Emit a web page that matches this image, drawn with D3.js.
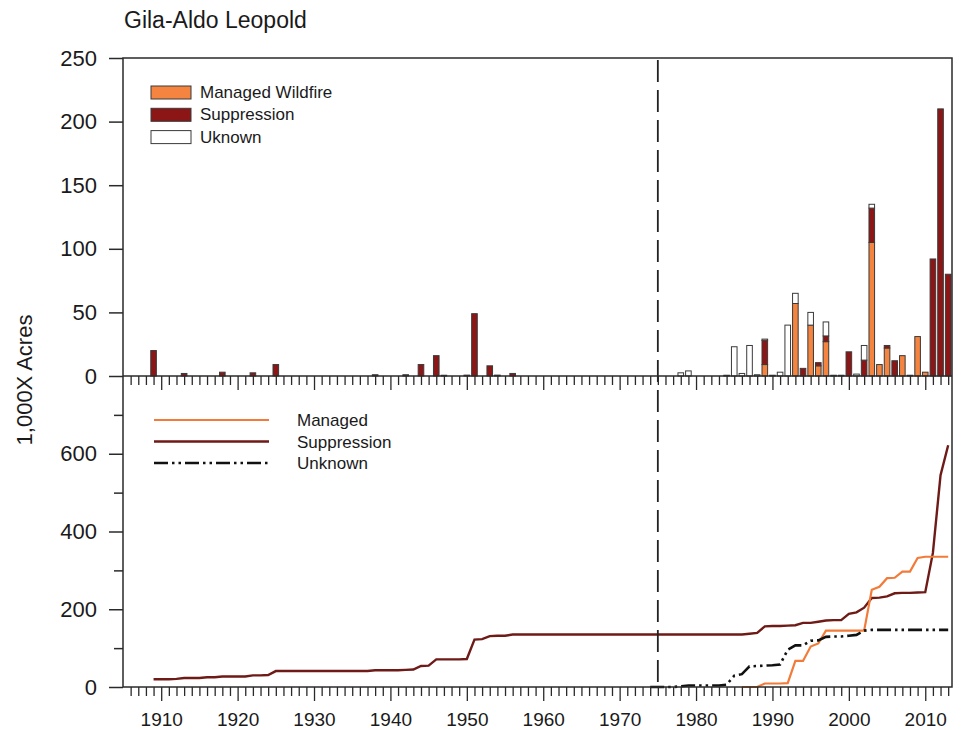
<!DOCTYPE html>
<html><head><meta charset="utf-8">
<script src="https://cdn.jsdelivr.net/npm/d3@7"></script>
<style>html,body{margin:0;padding:0;background:#fff;}svg{display:block;font-family:"Liberation Sans",Arial,sans-serif;}</style>
</head><body>
<script>
// ---- Data (1,000 acres) ----
const barYears   = [1909,1913,1918,1922,1925,1938,1942,1944,1946,1947,1950,1951,1953,1954,1956,1978,1979,1984,1985,1986,1987,1988,1989,1990,1991,1992,1993,1994,1995,1996,1997,1998,1999,2000,2001,2002,2003,2004,2005,2006,2007,2008,2009,2010,2011,2012,2013];
const managedBar = [0,0,0,0,0,0,0,0,0,0,0,0,0,0,0,0,0,0,0,0,0,0,9,0,0,0,57,0,40,8,27,0,0,0,0,0,105,9,22,0,16,0,31,3,0,0,0];
const suppBar    = [20,2,3,2.5,9,1,1,9,16,0.6,0.7,49,8,0.7,2,0,0,0.6,0,0,0,0,19,0.6,0,0,0,6,0,2.5,4.5,0.6,0.6,19,0,12.5,27,0,2,12,0,0.6,0,0,92,210,80];
const unknownBar = [0,0,0,0,0,0,0,0,0,0,0,0,0,0,0,2.5,4,0,23,2,24,1,1,0,3,40,8,0,10,0,11,0,0,0,1.5,11.5,3,0,0,0,0,0,0,0,0,0,0];

const suppCumStart = 1909;
const suppCum = [20,20,20,21,23,23,23,25,25,27,27,27,27,30,30,31,41,
  41,41,41,41,41,41,41,41,41,41,41,41,
  43,43,43,43,44,45,54,55,71,71,71,71,72,122,123,131,132,132,135,
  135,135,135,135,135,135,135,135,135,135,135,135,135,135,135,135,135,135,135,135,135,135,135,135,135,135,135,135,135,
  135,137,139,156,157,157,158,159,165,165,168,171,172,172,188,192,204,229,230,233,241,242,242,243,244,345,545,622];
const managedCumStart = 1986;
const managedCum = [0,0,0,9,9,9,10,67,67,104,112,145,145,145,145,145,145,250,258,280,281,297,297,332,335,335,335,335];
const unknownCumStart = 1974;
const unknownCum = [0,0,0,0,2,4,4,4,4,4,6,29,33,53,54,55,56,58,96,107,107,119,120,129,130,130,132,134,145,147,147,147,147,147,147,147,147,147,147,147];

const topTicks = [0,50,100,150,200,250];
const botMajorTicks = [0,200,400,600];
const botMinorTicks = [100,300,500,700];
const decadeTicks = [1910,1920,1930,1940,1950,1960,1970,1980,1990,2000,2010];
const title = "Gila-Aldo Leopold";
const yTitle = "1,000X Acres";
const barLegend = ["Managed Wildfire","Suppression","Uknown"];
const lineLegend = ["Managed","Suppression","Unknown"];
const breakYear = 1975;

// ---- Drawing ----
const W = 963, H = 730;
const L = 123, R = 952, T = 58, MID = 376, B = 687;
const col = {managed:"#F4843F", supp:"#8C1616", unknown:"#ffffff",
  mLine:"#F27B3A", sLine:"#6E1A16", uLine:"#111"};
const axisCol = "#2a2a2a";

const svg = d3.select("body").append("svg").attr("width",W).attr("height",H);
const x = d3.scaleLinear().domain([1905, 2013.5]).range([L, R]);
const yTop = d3.scaleLinear().domain([0,250]).range([MID, T]);
const yBot = d3.scaleLinear().domain([0,800]).range([B, MID]);

// Bars (stacked)
const bw = 5.6;
const stackData = barYears.map((yr,i)=>({year:yr, managed:managedBar[i], supp:suppBar[i], unknown:unknownBar[i]}));
const stack = d3.stack().keys(["managed","supp","unknown"])(stackData);
const fills = {managed:col.managed, supp:col.supp, unknown:col.unknown};
stack.forEach(layer=>{
  svg.append("g").selectAll("rect").data(layer.filter(d=>d[1]-d[0]>0)).join("rect")
    .attr("x", d=>x(d.data.year)-bw/2).attr("width", bw)
    .attr("y", d=>yTop(d[1])).attr("height", d=>Math.max(0.8, yTop(d[0])-yTop(d[1])))
    .attr("fill", layer.key==="unknown" && d3.select ? fills[layer.key] : fills[layer.key])
    .attr("stroke","#3a3a3a").attr("stroke-width",1);
});

// Lines
const mkLine = (start, arr) => arr.map((v,i)=>[start+i, v]);
const line = d3.line().x(d=>x(d[0])).y(d=>yBot(d[1]));
svg.append("path").attr("d", line(mkLine(suppCumStart, suppCum))).attr("fill","none")
  .attr("stroke", col.sLine).attr("stroke-width",2.4);
svg.append("path").attr("d", line(mkLine(managedCumStart, managedCum))).attr("fill","none")
  .attr("stroke", col.mLine).attr("stroke-width",2.2);
svg.append("path").attr("d", line(mkLine(unknownCumStart, unknownCum))).attr("fill","none")
  .attr("stroke", col.uLine).attr("stroke-width",2.6).attr("stroke-dasharray","14,4,2.5,4,2.5,4");

// Dashed divider
svg.append("line").attr("x1",x(breakYear)).attr("x2",x(breakYear)).attr("y1",T+2).attr("y2",B)
  .attr("stroke","#222").attr("stroke-width",1.8).attr("stroke-dasharray","22,8");

// Frame
svg.append("rect").attr("x",L).attr("y",T).attr("width",R-L).attr("height",B-T)
  .attr("fill","none").attr("stroke",axisCol).attr("stroke-width",1.5);
svg.append("line").attr("x1",L).attr("x2",R).attr("y1",MID).attr("y2",MID).attr("stroke",axisCol).attr("stroke-width",1.5);

// Y axes
const yAxTop = d3.axisLeft(yTop).tickValues(topTicks).tickSize(14).tickPadding(12);
const gT = svg.append("g").attr("transform",`translate(${L},0)`).call(yAxTop);
const yAxBot = d3.axisLeft(yBot).tickValues(botMajorTicks).tickSize(14).tickPadding(12);
const gB = svg.append("g").attr("transform",`translate(${L},0)`).call(yAxBot);
const yAxBotMin = d3.axisLeft(yBot).tickValues(botMinorTicks).tickSize(9).tickFormat("");
const gBm = svg.append("g").attr("transform",`translate(${L},0)`).call(yAxBotMin);
[gT,gB,gBm].forEach(g=>{
  g.select(".domain").remove();
  g.selectAll(".tick line").attr("stroke",axisCol).attr("stroke-width",1.5);
  g.selectAll("text").attr("font-size",22).attr("fill","#1a1a1a").attr("font-family","'Liberation Sans',Arial,sans-serif");
});

// X axes (year ticks)
const yearsAll = d3.range(1906, 2014);
const minorYears = yearsAll.filter(y=>y%10!==0);
[MID, B].forEach(yy=>{
  const gMin = svg.append("g").attr("transform",`translate(0,${yy})`)
    .call(d3.axisBottom(x).tickValues(minorYears).tickSize(9).tickFormat(""));
  const gMaj = svg.append("g").attr("transform",`translate(0,${yy})`)
    .call(d3.axisBottom(x).tickValues(decadeTicks).tickSize(14).tickFormat(yy===B? d3.format("d") : ""));
  [gMin,gMaj].forEach(g=>{
    g.select(".domain").remove();
    g.selectAll(".tick line").attr("stroke",axisCol).attr("stroke-width",1.3);
    g.selectAll("text").attr("font-size",19).attr("fill","#1a1a1a").attr("dy",0).attr("y",39)
      .attr("font-family","'Liberation Sans',Arial,sans-serif");
  });
});

// Titles
svg.append("text").attr("x",124).attr("y",28).attr("font-size",23).attr("fill","#1a1a1a").text(title);
svg.append("text").attr("transform","translate(32,380) rotate(-90)").attr("text-anchor","middle")
  .attr("font-size",22).attr("fill","#1a1a1a").text(yTitle);

// Bar legend
const bl = svg.append("g");
[col.managed, col.supp, col.unknown].forEach((c,i)=>{
  bl.append("rect").attr("x",151).attr("y",86+i*22.3).attr("width",40).attr("height",13)
    .attr("fill",c).attr("stroke","#3a3a3a").attr("stroke-width",1);
  bl.append("text").attr("x",200).attr("y",98+i*22.3).attr("font-size",17).attr("fill","#1a1a1a").text(barLegend[i]);
});

// Line legend
const ll = svg.append("g");
const lstyles = [{c:col.mLine,w:2.2,d:null},{c:col.sLine,w:2.6,d:null},{c:col.uLine,w:2.4,d:"14,4,2.5,4,2.5,4"}];
lstyles.forEach((s,i)=>{
  const yy = 420+i*21.5;
  const ln = ll.append("line").attr("x1",154).attr("x2",269).attr("y1",yy).attr("y2",yy)
    .attr("stroke",s.c).attr("stroke-width",s.w);
  if(s.d) ln.attr("stroke-dasharray",s.d);
  ll.append("text").attr("x",297).attr("y",yy+6).attr("font-size",17).attr("fill","#1a1a1a").text(lineLegend[i]);
});
</script>
</body></html>
